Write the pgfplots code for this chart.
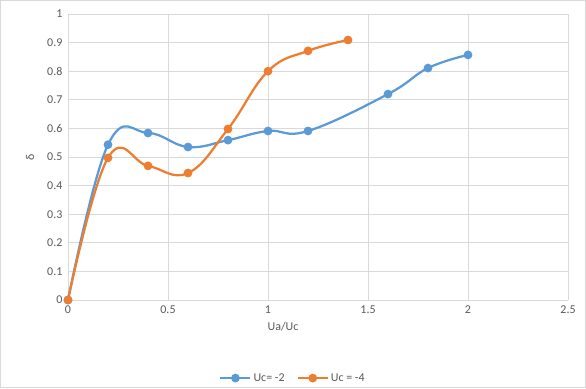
\documentclass[border=0pt]{standalone}
\usepackage{pgfplots}
\pgfplotsset{compat=1.18}
\usepackage{fontspec}
\setmainfont{Carlito}
\definecolor{cblue}{HTML}{5B9BD5}
\definecolor{corange}{HTML}{ED7D31}
\definecolor{cgrid}{HTML}{D9D9D9}
\definecolor{ctext}{HTML}{595959}
\begin{document}
\begin{tikzpicture}[x=1bp,y=1bp]
\draw[cgrid,line width=0.75bp] (0.5,0.5) rectangle (585.5,387.5);
\useasboundingbox (0,0) rectangle (586,388);
\begin{axis}[
  at={(68bp,88bp)}, anchor=south west,
  scale only axis, width=500bp, height=286bp,
  xmin=0, xmax=2.5, ymin=0, ymax=1,
  xtick={0,0.5,...,2.5}, ytick={0,0.1,...,1},
  xticklabels={0,0.5,1,1.5,2,2.5},
  yticklabels={0,0.1,0.2,0.3,0.4,0.5,0.6,0.7,0.8,0.9,1},
  grid=major, major grid style={cgrid,line width=0.75bp},
  axis line style={cgrid,line width=0.75bp},
  tick style={draw=none},
  axis lines=left, axis line style={-},
  ticklabel style={font=\fontsize{12}{14}\selectfont, text=ctext},
  /pgf/number format/assume math mode=true,
  xlabel={Ua/Uc}, ylabel={δ},
  label style={font=\fontsize{12}{14}\selectfont, text=ctext},
  xlabel style={at={(axis description cs:0.43,-0.094)}, anchor=center},
  ylabel style={at={(axis description cs:-0.076,0.5)}, anchor=center, rotate=0},
  legend style={at={(axis description cs:0.45,-0.273)}, anchor=center, draw=none,
    font=\fontsize{12}{14}\selectfont, text=ctext, legend columns=2,
    /tikz/every even column/.append style={column sep=10bp}},
  legend image code/.code={\draw[#1,mark repeat=2,mark phase=2] plot coordinates {(0bp,0bp) (15bp,0bp) (30bp,0bp)};},
  clip=false,
]
\addplot[cblue, line width=2.25bp, smooth, tension=0.7, mark=*, mark size=3.2bp, mark options={fill=cblue,draw=cblue}]
coordinates {(0,0) (0.2,0.543) (0.4,0.584) (0.6,0.535) (0.8,0.559) (1.0,0.591) (1.2,0.591) (1.6,0.72) (1.8,0.811) (2.0,0.857)};
\addlegendentry{Uc= -2}
\addplot[corange, line width=2.25bp, smooth, tension=0.7, mark=*, mark size=3.2bp, mark options={fill=corange,draw=corange}]
coordinates {(0,0) (0.2,0.497) (0.4,0.469) (0.6,0.444) (0.8,0.598) (1.0,0.80) (1.2,0.871) (1.4,0.909)};
\addlegendentry{Uc = -4}
\end{axis}
\end{tikzpicture}
\end{document}
